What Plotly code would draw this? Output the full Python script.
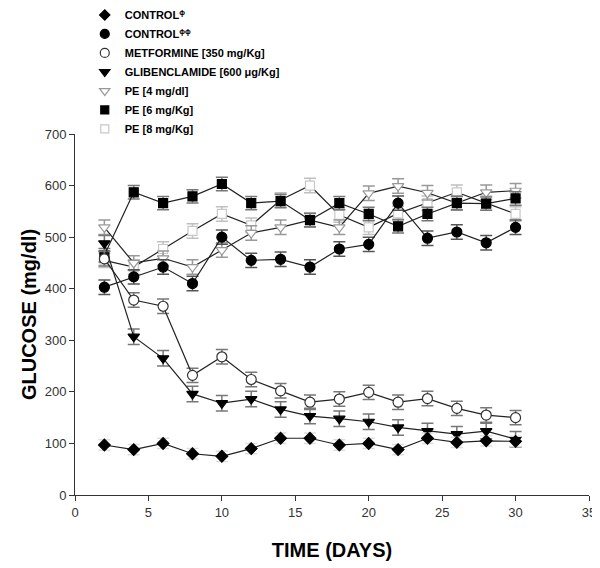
import plotly.graph_objects as go

days = [2, 4, 6, 8, 10, 12, 14, 16, 18, 20, 22, 24, 26, 28, 30]

control1 = [97, 88, 100, 80, 75, 90, 110, 110, 97, 100, 88, 110, 102, 105, 104]
control2 = [403, 423, 442, 410, 500, 455, 457, 442, 477, 486, 566, 498, 510, 489, 519]
metformine = [458, 378, 366, 232, 268, 224, 202, 180, 186, 199, 180, 187, 168, 155, 150]
gliben = [488, 307, 265, 196, 178, 186, 166, 153, 148, 142, 131, 124, 118, 124, 108]
pe4 = [519, 450, 459, 442, 475, 508, 519, 533, 519, 585, 599, 586, 566, 587, 590]
pe6 = [465, 587, 566, 579, 603, 566, 570, 533, 566, 545, 521, 545, 566, 565, 575]
pe8 = [455, 442, 477, 512, 545, 523, 572, 600, 543, 519, 546, 566, 587, 566, 545]

err_c1 = [10] * 15
err_c2 = [14] * 15
err_met = [14] * 15
err_gli = [15] * 15
err_pe4 = [14] * 15
err_pe6 = [13] * 15
err_pe8 = [14] * 15

names = ["CONTROL<sup>ϕ</sup>", "CONTROL<sup>ϕϕ</sup>", "METFORMINE [350 mg/Kg]",
         "GLIBENCLAMIDE [600 μg/Kg]", "PE [4 mg/dl]", "PE [6 mg/Kg]", "PE [8 mg/Kg]"]

series = [
    (control1, err_c1, "diamond", "black", "black", "#dddddd", 9),
    (control2, err_c2, "circle", "black", "black", "#555555", 10),
    (metformine, err_met, "circle", "white", "#333333", "#777777", 10),
    (gliben, err_gli, "triangle-down", "black", "black", "#777777", 10),
    (pe4, err_pe4, "triangle-down", "white", "#999999", "#999999", 10),
    (pe6, err_pe6, "square", "black", "black", "#777777", 9),
    (pe8, err_pe8, "square", "white", "#c8c8c8", "#c0c0c0", 9),
]

fig = go.Figure()
draw_order = [6, 4, 5, 1, 2, 3, 0]
for i in draw_order:
    vals, err, sym, fill, edge, ecol, sz = series[i]
    fig.add_trace(go.Scatter(
        x=days, y=vals, mode="lines+markers", showlegend=False,
        line=dict(color="#222222", width=1.2),
        marker=dict(symbol=sym, size=sz, color=fill, line=dict(color=edge, width=1.2)),
        error_y=dict(type="data", array=err, color=ecol, thickness=1.5, width=6),
    ))

for i, (vals, err, sym, fill, edge, ecol, sz) in enumerate(series):
    fig.add_trace(go.Scatter(
        x=[None], y=[None], mode="markers", name="<b>" + names[i] + "</b>", showlegend=True,
        marker=dict(symbol=sym, size=sz - 1, color=fill, line=dict(color=edge, width=1.2)),
    ))

fig.update_layout(
    width=592, height=560,
    margin=dict(l=67, r=11, t=126, b=73, autoexpand=False),
    paper_bgcolor="white", plot_bgcolor="white",
    font=dict(family="Liberation Sans, Arial, sans-serif", color="#333333", size=13),
    showlegend=True,
    legend=dict(x=0.019, y=1.37, xanchor="left", yanchor="top",
                bgcolor="rgba(0,0,0,0)", traceorder="normal",
                font=dict(size=11, color="black", family="Liberation Sans, Arial, sans-serif"),
                itemwidth=30, tracegroupgap=0),
    xaxis=dict(range=[0, 35], dtick=5, tick0=0, showline=True, linecolor="#333333",
               linewidth=1, ticks="outside", ticklen=5, tickcolor="#333333",
               showgrid=False, zeroline=False, automargin=False,
               title=dict(text="<b>TIME (DAYS)</b>", font=dict(size=20, color="black"), standoff=24)),
    yaxis=dict(range=[0, 700], dtick=100, tick0=0, showline=True, linecolor="#333333",
               linewidth=1, ticks="outside", ticklen=5, tickcolor="#333333",
               showgrid=False, zeroline=False, automargin=False,
               title=dict(text="<b>GLUCOSE (mg/dl)</b>", font=dict(size=20, color="black"), standoff=2)),
)

fig.write_html("out.html")
